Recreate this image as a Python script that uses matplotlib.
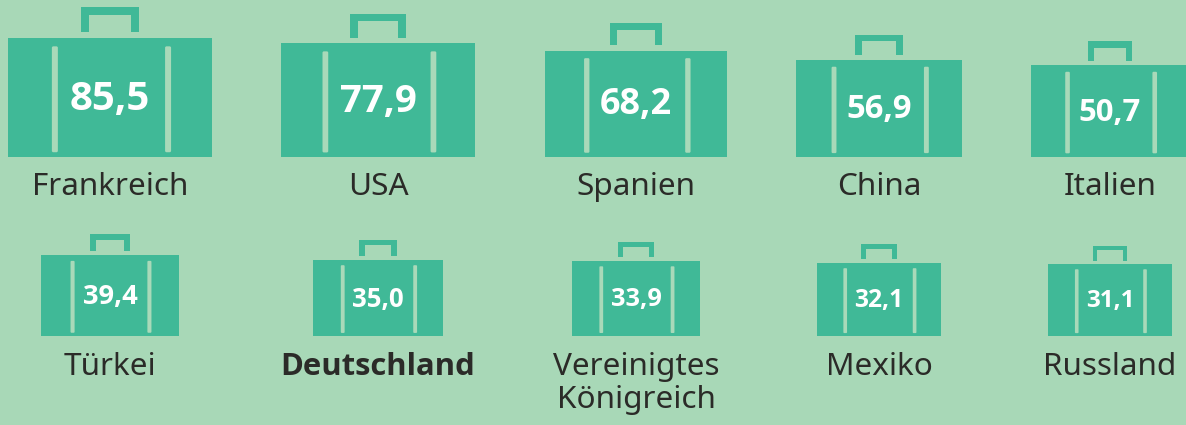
import numpy as np
import matplotlib
matplotlib.use('Agg')
import matplotlib.pyplot as plt
from matplotlib.patches import Rectangle, FancyBboxPatch

# Data
countries_top = ['Frankreich', 'USA', 'Spanien', 'China', 'Italien']
values_top = [85.5, 77.9, 68.2, 56.9, 50.7]
countries_bottom = ['Türkei', 'Deutschland', 'Vereinigtes\nKönigreich', 'Mexiko', 'Russland']
values_bottom = [39.4, 35.0, 33.9, 32.1, 31.1]

BG = '#a8d8b7'
CASE = '#40b997'
STRAP = '#a9d9b9'
DARK = '#2b2b28'
FONT = 'Noto Sans'
BOLD_FONT = 'Open Sans'

centers = [110, 378, 636, 879, 1110]


# Draw one suitcase, area scales with the value
def draw_case(ax, cx, bottom, value, max_value=85.5):
    scale = np.sqrt(value / max_value)
    w = 204 * scale
    h = 119 * scale
    left = cx - w / 2
    top = bottom - h

    ax.add_patch(Rectangle((left, top), w, h, fc=CASE, ec='none'))

    # straps
    sw = 6 * scale
    for sx in [left + 0.215 * w, left + 0.77 * w]:
        ax.add_patch(FancyBboxPatch((sx, top + 0.07 * h), sw, 0.89 * h,
                                    boxstyle='round,pad=0,rounding_size=%.1f' % (sw / 4),
                                    fc=STRAP, ec='none'))

    # handle
    hw = 58 * scale
    ht = 25 * scale
    th = 8 * scale
    gap = 6 * scale
    hl = cx - hw / 2
    ax.add_patch(Rectangle((hl, top - gap - ht), hw, th, fc=CASE, ec='none'))
    ax.add_patch(Rectangle((hl, top - gap - ht), th, ht, fc=CASE, ec='none'))
    ax.add_patch(Rectangle((hl + hw - th, top - gap - ht), th, ht, fc=CASE, ec='none'))

    ax.text(cx, bottom - h * 0.485, ('%.1f' % value).replace('.', ','), color='white',
            fontsize=29 * scale, fontweight='bold', family=BOLD_FONT,
            ha='center', va='center')


fig = plt.figure(figsize=(11.86, 4.25), dpi=100, facecolor=BG)
ax = fig.add_axes([0, 0, 1, 1])
ax.set_xlim(0, 1186)
ax.set_ylim(425, 0)
ax.axis('off')

for cx, name, val in zip(centers, countries_top, values_top):
    draw_case(ax, cx, 157, val)
    ax.text(cx, 187, name, color=DARK, fontsize=22.7, family=FONT, ha='center', va='center')

for cx, name, val in zip(centers, countries_bottom, values_bottom):
    draw_case(ax, cx, 336, val)
    bold = name == 'Deutschland'
    ax.text(cx, 352, name, color=DARK, fontsize=22.3 if bold else 22.7,
            family=BOLD_FONT if bold else FONT, fontweight='bold' if bold else 'normal',
            ha='center', va='top', linespacing=1.14)

fig.savefig('out.png', dpi=100, facecolor=BG)
